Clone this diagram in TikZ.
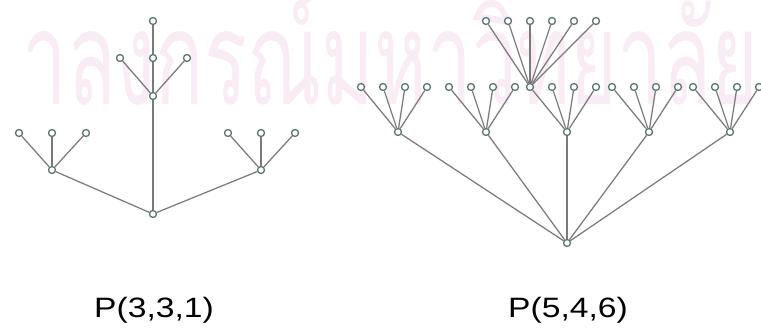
\documentclass[tikz,border=0pt]{standalone}
\usepackage{fontspec}
\setmainfont{Liberation Sans}
\newfontfamily\thaifont[Script=Thai]{Loma}
\definecolor{vgreen}{RGB}{90,118,112}
\definecolor{egray}{RGB}{122,122,122}
\definecolor{wmpink}{RGB}{249,236,244}
\begin{document}
\begin{tikzpicture}[x=1pt,y=-1pt]
	\tikzstyle{vertex} = [shape=circle, draw=vgreen, fill=white, line width=1.3pt, inner sep=0, minimum size=7pt]
	\tikzstyle{edge} = [draw=egray, line width=1.25pt]
	\tikzstyle{caption} = [font=\fontsize{28}{30}\selectfont, xscale=1.2, anchor=base]
	
	\useasboundingbox (0,0) rectangle (761,331);
	% faint lettering behind the trees
	\node [text=wmpink, inner sep=0, anchor=base west] (wm) at (22,105)
		{\resizebox{736pt}{\height}{\thaifont\fontsize{130}{130}\selectfont าลงกรณ์มหาวิทยาลัย}};
	
	% P(3,3,1)
	\node [vertex] (a) at (153,214) {};
	\node [vertex] (a1) at (52,170) {};
	\node [vertex] (a2) at (153,96) {};
	\node [vertex] (a3) at (261,170) {};
	\foreach \p/\y in {1/133, 2/58, 3/133}
	{
		\draw [edge] (a) -- (a\p);
		\foreach \dx [count=\k] in {-33,0,34}
		{
			\path (a\p) ++(\dx,0) coordinate (t);
			\node [vertex] (a\p\k) at (t |- 0,\y) {};
			\draw [edge] (a\p) -- (a\p\k);
		}
	}
	\node [vertex] (a4) at (153,21) {};
	\draw [edge] (a22) -- (a4);
	
	% P(5,4,6)
	\node [vertex] (b) at (567,243) {};
	\foreach \x [count=\p] in {398,486,567,649,730}
	{
		\node [vertex] (b\p) at (\x,132) {};
		\draw [edge] (b) -- (b\p);
		\foreach \dx [count=\k] in {-37,-15,7,29}
		{
			\node [vertex] (b\p\k) at (\x+\dx,87) {};
			\draw [edge] (b\p) -- (b\p\k);
		}
	}
	\foreach \k in {0,...,5}
	{
		\node [vertex] (c\k) at (486+22*\k,21) {};
		\draw [edge] (b31) -- (c\k);
	}
	
	\node [caption] (la) at (154,318) {P(3,3,1)};
	\node [caption] (lb) at (568,318) {P(5,4,6)};
\end{tikzpicture}
\end{document}
